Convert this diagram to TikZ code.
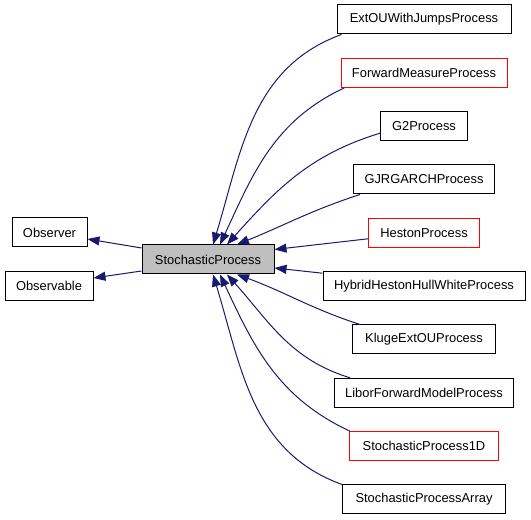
\documentclass[tikz,border=0pt]{standalone}
\usepackage{fontspec}
\setmainfont{Liberation Sans}
\usetikzlibrary{arrows.meta}
\definecolor{edgeblue}{HTML}{191970}
\definecolor{boxgray}{HTML}{BFBFBF}
\begin{document}
\begin{tikzpicture}[x=1pt,y=1pt,
  cls/.style={draw=black, line width=1pt, fill=white, minimum height=29pt, inner xsep=2pt, inner ysep=0pt,
    font=\fontsize{12.9}{15}\selectfont},
  redcls/.style={cls, draw=red},
  maincls/.style={cls, fill=boxgray},
  inh/.style={draw=edgeblue, line width=1pt, -{Triangle[length=12pt,width=9pt]}}
]
\useasboundingbox (0,0) rectangle (531,520);
% left
\node[cls, minimum width=75pt] (obs) at (49.5,287.5) {Observer};
\node[cls, minimum width=88pt] (obsable) at (49,234) {Observable};
\node[maincls, minimum width=132pt] (sp) at (208,260.5) {StochasticProcess};
% right
\node[cls, minimum width=174pt] (ext) at (424,500.5) {ExtOUWithJumpsProcess};
\node[redcls, minimum width=166pt] (fmp) at (424,447.2) {ForwardMeasureProcess};
\node[cls, minimum width=87pt] (g2) at (424,393.8) {G2Process};
\node[cls, minimum width=141pt] (gjr) at (424,340.5) {GJRGARCHProcess};
\node[redcls, minimum width=111pt] (hes) at (424,287.2) {HestonProcess};
\node[cls, minimum width=202pt] (hyb) at (424,233.8) {HybridHestonHullWhiteProcess};
\node[cls, minimum width=143pt] (klu) at (424,180.5) {KlugeExtOUProcess};
\node[cls, minimum width=179pt] (lib) at (424,127.2) {LiborForwardModelProcess};
\node[redcls, minimum width=149pt] (sp1) at (424,73.8) {StochasticProcess1D};
\node[cls, minimum width=163pt] (arr) at (424,20.5) {StochasticProcessArray};
% edges
\draw[inh] ([yshift=11.5pt]sp.west) -- ([yshift=-6.5pt]obs.east);
\draw[inh] ([yshift=-11.5pt]sp.west) -- ([yshift=8pt]obsable.east);
\draw[inh] ([xshift=5pt]ext.south west) to[out=200,in=73] ([xshift=5pt]sp.north);
\draw[inh] ([xshift=4pt]fmp.south west) to[out=205,in=65] ([xshift=12pt]sp.north);
\draw[inh] ([yshift=8pt]g2.south west) to[out=197,in=48] ([xshift=19pt]sp.north);
\draw[inh] ([xshift=7pt]gjr.south west) to[out=198,in=22] ([xshift=29pt]sp.north);
\draw[inh] ([yshift=-6pt]hes.west) -- ([yshift=10pt]sp.east);
\draw[inh] ([yshift=-2pt]hyb.north west) -- ([yshift=-8.5pt]sp.east);
\draw[inh] ([xshift=8pt]klu.north west) to[out=162,in=-20] ([xshift=29pt]sp.south);
\draw[inh] ([xshift=16pt]lib.north west) to[out=163,in=-48] ([xshift=19pt]sp.south);
\draw[inh] ([xshift=1pt]sp1.north west) to[out=155,in=-65] ([xshift=12pt]sp.south);
\draw[inh] (arr.north west) to[out=160,in=-73] ([xshift=5pt]sp.south);
\end{tikzpicture}
\end{document}
